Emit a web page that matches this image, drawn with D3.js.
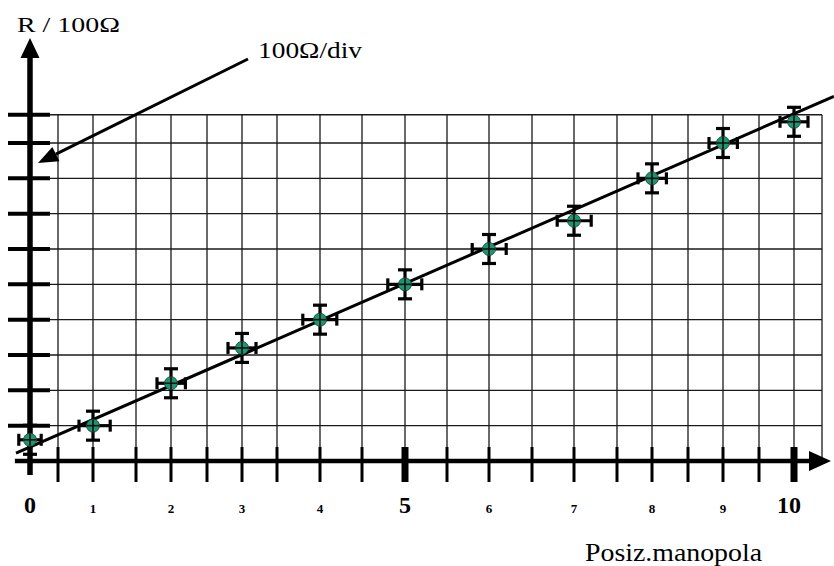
<!DOCTYPE html>
<html>
<head>
<meta charset="utf-8">
<script src="https://cdn.jsdelivr.net/npm/d3@7"></script>
<style>
  html,body{margin:0;padding:0;background:#fff;}
  svg{display:block;}
</style>
</head>
<body>
<svg id="chart" width="834" height="566"></svg>
<script>
// ---- data ----
const posiz = [0, 1, 2, 3, 4, 5, 6, 7, 8, 9, 10];
const resistance = [0.6, 1.0, 2.2, 3.2, 4.0, 5.0, 6.0, 6.8, 8.0, 9.0, 9.6];
const errR = 0.41;
const errPos = 0.2;
const xTickLabels = ["0","1","2","3","4","5","6","7","8","9","10"];
const xMajor = [0, 5, 10];
const xGridValues = [0.5,1,1.5,2,2.5,3,3.5,4,4.5,5,5.5,6,6.5,7,7.5,8,8.5,9,9.5,10,10.4];
const yTickValues = [1,2,3,4,5,6,7,8,9,9.8];
const fitX = [-0.25, 10.57];
const fitY = [0.22, 10.32];

const FONT = "'Liberation Serif', 'Times New Roman', serif";
const svg = d3.select("#chart");

// hand-drawn horizontal calibration (piecewise)
const x = d3.scaleLinear()
  .domain([0,0.5,1,1.5,2,2.5,3,3.5,4,4.5,5,5.5,6,6.5,7,7.5,8,8.5,9,9.5,10])
  .range([30,58,93,136,171,207,242,277,320,362,405,447,489,532,574,617,652,688,723,759,794]);
const y = d3.scaleLinear().domain([0, 9]).range([461, 143]);

const gridTop = y(9.8), gridBottom = y(0), gridLeft = x(0), gridRight = x(10.4);

// grid
svg.append("g").selectAll("line").data(xGridValues).join("line")
  .attr("x1", d => x(d)).attr("x2", d => x(d))
  .attr("y1", gridTop).attr("y2", gridBottom)
  .attr("stroke", "#1a1a1a").attr("stroke-width", 1.3);
svg.append("g").selectAll("line").data(yTickValues).join("line")
  .attr("x1", gridLeft).attr("x2", gridRight)
  .attr("y1", d => y(d)).attr("y2", d => y(d))
  .attr("stroke", "#1a1a1a").attr("stroke-width", 1.3);

// x ticks
svg.append("g").selectAll("line").data(xGridValues.filter(d => d <= 10)).join("line")
  .attr("x1", d => x(d)).attr("x2", d => x(d))
  .attr("y1", gridBottom - 14).attr("y2", gridBottom + 21)
  .attr("stroke", "#000")
  .attr("stroke-width", d => xMajor.includes(d) ? 7 : 3);

// y ticks
svg.append("g").selectAll("line").data(yTickValues).join("line")
  .attr("x1", gridLeft - 22).attr("x2", gridLeft + 20)
  .attr("y1", d => y(d)).attr("y2", d => y(d))
  .attr("stroke", "#000").attr("stroke-width", 4);

// axes
svg.append("line").attr("x1", x(-0.27)).attr("x2", 812)
  .attr("y1", gridBottom).attr("y2", gridBottom)
  .attr("stroke", "#000").attr("stroke-width", 4.5);
svg.append("path")
  .attr("d", `M${831},${gridBottom} L${809},${gridBottom-10} L${809},${gridBottom+10} Z`)
  .attr("fill", "#000");
svg.append("line").attr("x1", gridLeft).attr("x2", gridLeft)
  .attr("y1", gridBottom + 14).attr("y2", 55)
  .attr("stroke", "#000").attr("stroke-width", 5.5);
svg.append("path")
  .attr("d", `M${gridLeft},38 L${gridLeft-9.5},58 L${gridLeft+9.5},58 Z`)
  .attr("fill", "#000");

// x tick labels
svg.append("g").selectAll("text").data(posiz).join("text")
  .attr("x", d => x(d) + (d === 10 ? -5 : 0))
  .attr("y", 513)
  .attr("text-anchor", "middle")
  .attr("font-family", FONT)
  .attr("font-weight", "bold")
  .attr("font-size", d => xMajor.includes(d) ? 24 : 13)
  .text((d, i) => xTickLabels[i]);

// fit line
svg.append("line")
  .attr("x1", x(fitX[0])).attr("y1", y(fitY[0]))
  .attr("x2", x(fitX[1])).attr("y2", y(fitY[1]))
  .attr("stroke", "#000").attr("stroke-width", 3);

// points with error bars
const pts = posiz.map((p, i) => ({p, r: resistance[i]}));
const g = svg.append("g");
const eb = g.selectAll("g.eb").data(pts).join("g").attr("class", "eb")
  .attr("stroke", "#000").attr("stroke-width", 3.2);
eb.append("line").attr("x1", d => x(d.p)).attr("x2", d => x(d.p))
  .attr("y1", d => y(d.r - errR)).attr("y2", d => y(d.r + errR));
eb.append("line").attr("x1", d => x(d.p) - 7).attr("x2", d => x(d.p) + 7)
  .attr("y1", d => y(d.r - errR)).attr("y2", d => y(d.r - errR));
eb.append("line").attr("x1", d => x(d.p) - 7).attr("x2", d => x(d.p) + 7)
  .attr("y1", d => y(d.r + errR)).attr("y2", d => y(d.r + errR));
eb.append("line").attr("x1", d => x(d.p - errPos)).attr("x2", d => x(d.p + errPos))
  .attr("y1", d => y(d.r)).attr("y2", d => y(d.r));
eb.append("line").attr("x1", d => x(d.p - errPos)).attr("x2", d => x(d.p - errPos))
  .attr("y1", d => y(d.r) - 6).attr("y2", d => y(d.r) + 6);
eb.append("line").attr("x1", d => x(d.p + errPos)).attr("x2", d => x(d.p + errPos))
  .attr("y1", d => y(d.r) - 6).attr("y2", d => y(d.r) + 6);
g.selectAll("circle").data(pts).join("circle")
  .attr("cx", d => x(d.p)).attr("cy", d => y(d.r)).attr("r", 6.5)
  .attr("fill", "#1f9470").attr("stroke", "#0b3d2c").attr("stroke-width", 0.8);
const cr = g.selectAll("g.cr").data(pts).join("g").attr("class", "cr")
  .attr("stroke", "#111").attr("stroke-width", 1.6);
cr.append("line").attr("x1", d => x(d.p)).attr("x2", d => x(d.p))
  .attr("y1", d => y(d.r) - 6).attr("y2", d => y(d.r) + 6);
cr.append("line").attr("x1", d => x(d.p) - 6).attr("x2", d => x(d.p) + 6)
  .attr("y1", d => y(d.r)).attr("y2", d => y(d.r));

// annotation arrow
const tail = [248, 59], tip = [38, 163];
const ang = Math.atan2(tip[1] - tail[1], tip[0] - tail[0]);
const hl = 20, hw = 8;
const bx = tip[0] - hl * Math.cos(ang), by = tip[1] - hl * Math.sin(ang);
svg.append("line").attr("x1", tail[0]).attr("y1", tail[1]).attr("x2", bx).attr("y2", by)
  .attr("stroke", "#000").attr("stroke-width", 3);
svg.append("path")
  .attr("d", `M${tip[0]},${tip[1]} L${bx + hw*Math.sin(ang)},${by - hw*Math.cos(ang)} L${bx - hw*Math.sin(ang)},${by + hw*Math.cos(ang)} Z`)
  .attr("fill", "#000");

// texts
svg.append("text").attr("x", 17).attr("y", 32).attr("font-size", 21).attr("font-family", FONT)
  .attr("textLength", 103).attr("lengthAdjust", "spacingAndGlyphs").text("R / 100Ω");
svg.append("text").attr("x", 258).attr("y", 58).attr("font-size", 23).attr("font-family", FONT)
  .attr("textLength", 104).attr("lengthAdjust", "spacingAndGlyphs").text("100Ω/div");
svg.append("text").attr("x", 585).attr("y", 561).attr("font-size", 26).attr("font-family", FONT)
  .attr("textLength", 177).attr("lengthAdjust", "spacingAndGlyphs").text("Posiz.manopola");
</script>
</body>
</html>
